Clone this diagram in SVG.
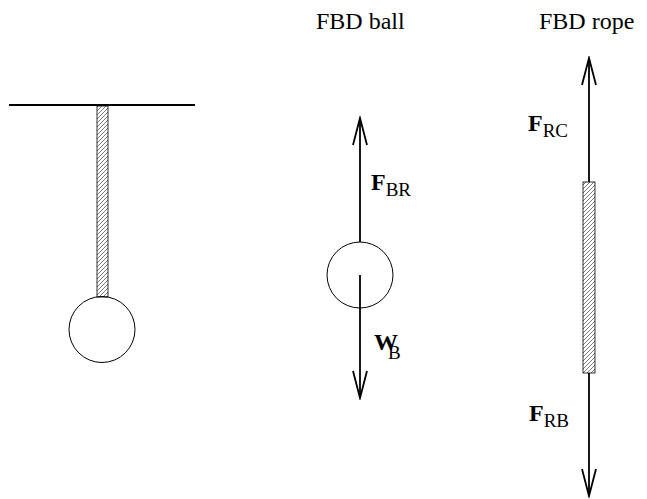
<svg xmlns="http://www.w3.org/2000/svg" width="647" height="499" viewBox="0 0 647 499">
<style>
  .t { font-family: "Liberation Serif", "Times New Roman", serif; fill: #000; }
  .title { font-size: 24px; }
  .big { font-size: 24px; font-weight: bold; }
  .sub { font-size: 19px; }
  .ln { stroke: #000; stroke-width: 1.8; fill: none; }
  .thin { stroke: #000; stroke-width: 1; fill: none; }
  .rope { fill: url(#hatch); stroke: #000; stroke-width: 0.8; }
</style>
<defs>
  <pattern id="hatch" patternUnits="userSpaceOnUse" width="4" height="4">
    <rect width="4" height="4" fill="#fff"/>
    <path d="M-1,1 L1,-1 M0,4 L4,0 M3,5 L5,3" stroke="#444" stroke-width="0.7"/>
  </pattern>
  <marker id="ah" viewBox="-30 -10 32 20" refX="0" refY="0" markerWidth="32" markerHeight="20" markerUnits="userSpaceOnUse" orient="auto">
    <path d="M-27,-7 L0,0 L-27,7" fill="none" stroke="#000" stroke-width="1.8"/>
  </marker>
</defs>

<g id="titles">
  <text class="t title" x="316" y="29">FBD ball</text>
  <text class="t title" x="539" y="29">FBD rope</text>
</g>

<g id="pendulum">
  <line class="ln" x1="9" y1="105" x2="195" y2="105" stroke-width="2"/>
  <rect class="rope" x="97" y="106" width="11" height="191"/>
  <circle class="thin" cx="102" cy="329.5" r="33"/>
</g>

<g id="ball-fbd">
  <circle class="thin" cx="360" cy="275" r="33"/>
</g>

<g id="rope-fbd">
  <rect class="rope" x="583" y="182" width="12" height="191"/>
</g>

<g id="connectors">
  <line class="ln" x1="360" y1="242" x2="360" y2="118" marker-end="url(#ah)"/>
  <line class="ln" x1="360" y1="275" x2="360" y2="398" marker-end="url(#ah)"/>
  <line class="ln" x1="589" y1="182" x2="589" y2="58" marker-end="url(#ah)"/>
  <line class="ln" x1="589" y1="373" x2="589" y2="496" marker-end="url(#ah)"/>
</g>

<g id="labels">
  <text class="t" x="371" y="190"><tspan class="big">F</tspan><tspan class="sub" dy="6">BR</tspan></text>
  <text class="t big" x="374" y="350">W</text>
  <text class="t sub" x="388" y="359">B</text>
  <text class="t" x="528" y="131"><tspan class="big">F</tspan><tspan class="sub" dy="6">RC</tspan></text>
  <text class="t" x="529" y="421"><tspan class="big">F</tspan><tspan class="sub" dy="6">RB</tspan></text>
</g>
</svg>
